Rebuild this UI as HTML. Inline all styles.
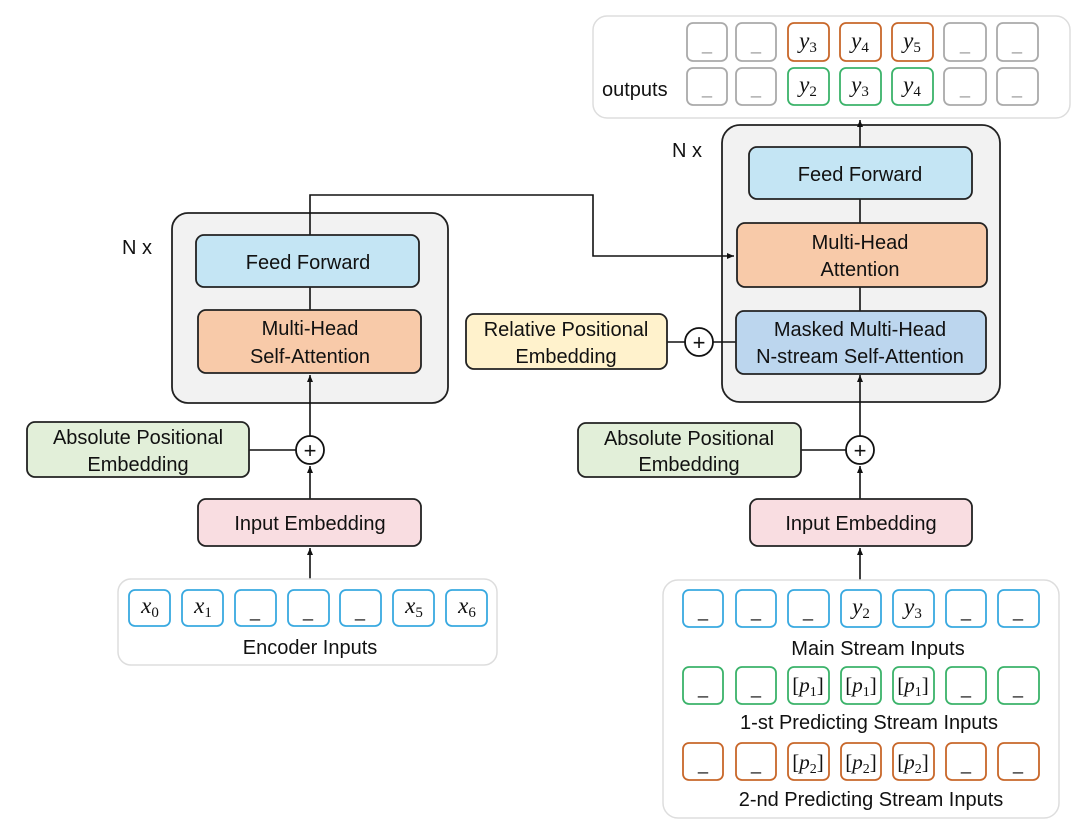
<!DOCTYPE html>
<html><head><meta charset="utf-8"><style>
html,body{margin:0;padding:0;background:#fff;}
svg{display:block;}
text{font-family:"Liberation Sans",sans-serif;fill:#111;}
.m{font-family:"Liberation Serif",serif;}
</style></head><body>
<svg width="1080" height="839" viewBox="0 0 1080 839" xmlns="http://www.w3.org/2000/svg">
<defs>
<marker id="ar" markerWidth="8" markerHeight="8" refX="7" refY="4" orient="auto" markerUnits="userSpaceOnUse">
<path d="M0,1 L7,4 L0,7 z" fill="#111"/></marker>
</defs>

<!-- output box -->
<rect x="593" y="16" width="477" height="102" rx="14" fill="#fff" stroke="#ddd" stroke-width="1.5"/>
<text x="602" y="96" font-size="20">outputs</text>
<g fill="#fff" stroke-width="1.8">
<rect x="687" y="23" width="40" height="38" rx="6" stroke="#aaa"/>
<rect x="736" y="23" width="40" height="38" rx="6" stroke="#aaa"/>
<rect x="788" y="23" width="41" height="38" rx="6" stroke="#c8672a"/>
<rect x="840" y="23" width="41" height="38" rx="6" stroke="#c8672a"/>
<rect x="892" y="23" width="41" height="38" rx="6" stroke="#c8672a"/>
<rect x="944" y="23" width="42" height="38" rx="6" stroke="#aaa"/>
<rect x="997" y="23" width="41" height="38" rx="6" stroke="#aaa"/>
<rect x="687" y="68" width="40" height="37" rx="6" stroke="#aaa"/>
<rect x="736" y="68" width="40" height="37" rx="6" stroke="#aaa"/>
<rect x="788" y="68" width="41" height="37" rx="6" stroke="#3bb36a"/>
<rect x="840" y="68" width="41" height="37" rx="6" stroke="#3bb36a"/>
<rect x="892" y="68" width="41" height="37" rx="6" stroke="#3bb36a"/>
<rect x="944" y="68" width="42" height="37" rx="6" stroke="#aaa"/>
<rect x="997" y="68" width="41" height="37" rx="6" stroke="#aaa"/>
</g>
<g font-size="18" text-anchor="middle">
<text x="707" y="50" style="fill:#999">_</text><text x="756" y="50" style="fill:#999">_</text>
<text x="965" y="50" style="fill:#999">_</text><text x="1017" y="50" style="fill:#999">_</text>
<text x="707" y="94" style="fill:#999">_</text><text x="756" y="94" style="fill:#999">_</text>
<text x="965" y="94" style="fill:#999">_</text><text x="1017" y="94" style="fill:#999">_</text>
</g>
<g font-size="23" text-anchor="middle">
<text class="m" x="808" y="48"><tspan font-style="italic">y</tspan><tspan font-size="15" dy="4">3</tspan></text>
<text class="m" x="860" y="48"><tspan font-style="italic">y</tspan><tspan font-size="15" dy="4">4</tspan></text>
<text class="m" x="912" y="48"><tspan font-style="italic">y</tspan><tspan font-size="15" dy="4">5</tspan></text>
<text class="m" x="808" y="92"><tspan font-style="italic">y</tspan><tspan font-size="15" dy="4">2</tspan></text>
<text class="m" x="860" y="92"><tspan font-style="italic">y</tspan><tspan font-size="15" dy="4">3</tspan></text>
<text class="m" x="912" y="92"><tspan font-style="italic">y</tspan><tspan font-size="15" dy="4">4</tspan></text>
</g>

<!-- encoder stack -->
<rect x="172" y="213" width="276" height="190" rx="16" fill="#f2f2f2" stroke="#222" stroke-width="1.8"/>
<text x="122" y="254" font-size="20">N x</text>
<!-- decoder stack -->
<rect x="722" y="125" width="278" height="277" rx="18" fill="#f2f2f2" stroke="#222" stroke-width="1.8"/>
<text x="672" y="157" font-size="20">N x</text>

<!-- lines -->
<g stroke="#111" stroke-width="1.6" fill="none">
<polyline points="310,235 310,195 593,195 593,256 734,256" marker-end="url(#ar)"/>
<line x1="310" y1="287" x2="310" y2="310"/>
<line x1="310" y1="436" x2="310" y2="375" marker-end="url(#ar)"/>
<line x1="310" y1="499" x2="310" y2="466" marker-end="url(#ar)"/>
<line x1="310" y1="579" x2="310" y2="548" marker-end="url(#ar)"/>
<line x1="249" y1="450" x2="296" y2="450"/>
<line x1="860" y1="147" x2="860" y2="120" marker-end="url(#ar)"/>
<line x1="860" y1="199" x2="860" y2="223"/>
<line x1="860" y1="287" x2="860" y2="311"/>
<line x1="860" y1="436" x2="860" y2="375" marker-end="url(#ar)"/>
<line x1="860" y1="499" x2="860" y2="466" marker-end="url(#ar)"/>
<line x1="860" y1="580" x2="860" y2="548" marker-end="url(#ar)"/>
<line x1="801" y1="450" x2="846" y2="450"/>
<line x1="667" y1="342" x2="685" y2="342"/>
<line x1="713" y1="342" x2="736" y2="342"/>
</g>

<!-- encoder blocks -->
<rect x="196" y="235" width="223" height="52" rx="8" fill="#c4e5f4" stroke="#222" stroke-width="1.8"/>
<text x="308" y="269" font-size="20" text-anchor="middle">Feed Forward</text>
<rect x="198" y="310" width="223" height="63" rx="8" fill="#f8caa9" stroke="#222" stroke-width="1.8"/>
<text x="310" y="335" font-size="20" text-anchor="middle">Multi-Head</text>
<text x="310" y="363" font-size="20" text-anchor="middle">Self-Attention</text>
<rect x="27" y="422" width="222" height="55" rx="8" fill="#e2efd9" stroke="#222" stroke-width="1.8"/>
<text x="138" y="444" font-size="20" text-anchor="middle">Absolute Positional</text>
<text x="138" y="471" font-size="20" text-anchor="middle">Embedding</text>
<circle cx="310" cy="450" r="14" fill="#fff" stroke="#111" stroke-width="1.8"/>
<text x="310" y="458" font-size="22" text-anchor="middle">+</text>
<rect x="198" y="499" width="223" height="47" rx="8" fill="#f9dde1" stroke="#222" stroke-width="1.8"/>
<text x="310" y="530" font-size="20" text-anchor="middle">Input Embedding</text>

<!-- encoder inputs -->
<rect x="118" y="579" width="379" height="86" rx="13" fill="#fff" stroke="#ddd" stroke-width="1.5"/>
<g fill="#fff" stroke="#39a9e0" stroke-width="1.8">
<rect x="129" y="590" width="41" height="36" rx="6"/><rect x="182" y="590" width="41" height="36" rx="6"/>
<rect x="235" y="590" width="41" height="36" rx="6"/><rect x="288" y="590" width="41" height="36" rx="6"/>
<rect x="340" y="590" width="41" height="36" rx="6"/><rect x="393" y="590" width="41" height="36" rx="6"/>
<rect x="446" y="590" width="41" height="36" rx="6"/>
</g>
<g font-size="18" text-anchor="middle">
<text x="255" y="617">_</text><text x="308" y="617">_</text><text x="360" y="617">_</text>
</g>
<g font-size="23" text-anchor="middle">
<text class="m" x="150" y="613"><tspan font-style="italic">x</tspan><tspan font-size="15" dy="4">0</tspan></text>
<text class="m" x="203" y="613"><tspan font-style="italic">x</tspan><tspan font-size="15" dy="4">1</tspan></text>
<text class="m" x="414" y="613"><tspan font-style="italic">x</tspan><tspan font-size="15" dy="4">5</tspan></text>
<text class="m" x="467" y="613"><tspan font-style="italic">x</tspan><tspan font-size="15" dy="4">6</tspan></text>
</g>
<text x="310" y="654" font-size="20" text-anchor="middle">Encoder Inputs</text>

<!-- decoder blocks -->
<rect x="749" y="147" width="223" height="52" rx="8" fill="#c4e5f4" stroke="#222" stroke-width="1.8"/>
<text x="860" y="181" font-size="20" text-anchor="middle">Feed Forward</text>
<rect x="737" y="223" width="250" height="64" rx="8" fill="#f8caa9" stroke="#222" stroke-width="1.8"/>
<text x="860" y="249" font-size="20" text-anchor="middle">Multi-Head</text>
<text x="860" y="276" font-size="20" text-anchor="middle">Attention</text>
<rect x="736" y="311" width="250" height="63" rx="8" fill="#bcd6ee" stroke="#222" stroke-width="1.8"/>
<text x="860" y="336" font-size="20" text-anchor="middle">Masked Multi-Head</text>
<text x="860" y="363" font-size="20" text-anchor="middle">N-stream Self-Attention</text>
<rect x="466" y="314" width="201" height="55" rx="8" fill="#fff2cc" stroke="#222" stroke-width="1.8"/>
<text x="566" y="336" font-size="20" text-anchor="middle">Relative Positional</text>
<text x="566" y="363" font-size="20" text-anchor="middle">Embedding</text>
<circle cx="699" cy="342" r="14" fill="#fff" stroke="#111" stroke-width="1.8"/>
<text x="699" y="350" font-size="22" text-anchor="middle">+</text>
<rect x="578" y="423" width="223" height="54" rx="8" fill="#e2efd9" stroke="#222" stroke-width="1.8"/>
<text x="689" y="445" font-size="20" text-anchor="middle">Absolute Positional</text>
<text x="689" y="471" font-size="20" text-anchor="middle">Embedding</text>
<circle cx="860" cy="450" r="14" fill="#fff" stroke="#111" stroke-width="1.8"/>
<text x="860" y="458" font-size="22" text-anchor="middle">+</text>
<rect x="750" y="499" width="222" height="47" rx="8" fill="#f9dde1" stroke="#222" stroke-width="1.8"/>
<text x="861" y="530" font-size="20" text-anchor="middle">Input Embedding</text>

<!-- decoder inputs -->
<rect x="663" y="580" width="396" height="238" rx="15" fill="#fff" stroke="#ddd" stroke-width="1.5"/>
<g fill="#fff" stroke-width="1.8">
<g stroke="#39a9e0">
<rect x="683" y="590" width="40" height="37" rx="6"/><rect x="736" y="590" width="40" height="37" rx="6"/>
<rect x="788" y="590" width="41" height="37" rx="6"/><rect x="841" y="590" width="40" height="37" rx="6"/>
<rect x="893" y="590" width="41" height="37" rx="6"/><rect x="946" y="590" width="40" height="37" rx="6"/>
<rect x="998" y="590" width="41" height="37" rx="6"/>
</g>
<g stroke="#3bb36a">
<rect x="683" y="667" width="40" height="37" rx="6"/><rect x="736" y="667" width="40" height="37" rx="6"/>
<rect x="788" y="667" width="41" height="37" rx="6"/><rect x="841" y="667" width="40" height="37" rx="6"/>
<rect x="893" y="667" width="41" height="37" rx="6"/><rect x="946" y="667" width="40" height="37" rx="6"/>
<rect x="998" y="667" width="41" height="37" rx="6"/>
</g>
<g stroke="#c8672a">
<rect x="683" y="743" width="40" height="37" rx="6"/><rect x="736" y="743" width="40" height="37" rx="6"/>
<rect x="788" y="743" width="41" height="37" rx="6"/><rect x="841" y="743" width="40" height="37" rx="6"/>
<rect x="893" y="743" width="41" height="37" rx="6"/><rect x="946" y="743" width="40" height="37" rx="6"/>
<rect x="998" y="743" width="41" height="37" rx="6"/>
</g>
</g>
<g font-size="18" text-anchor="middle">
<text x="703" y="617">_</text><text x="756" y="617">_</text><text x="808" y="617">_</text><text x="966" y="617">_</text><text x="1018" y="617">_</text>
<text x="703" y="694">_</text><text x="756" y="694">_</text><text x="966" y="694">_</text><text x="1018" y="694">_</text>
<text x="703" y="770">_</text><text x="756" y="770">_</text><text x="966" y="770">_</text><text x="1018" y="770">_</text>
</g>
<g font-size="23" text-anchor="middle">
<text class="m" x="861" y="614"><tspan font-style="italic">y</tspan><tspan font-size="15" dy="4">2</tspan></text>
<text class="m" x="913" y="614"><tspan font-style="italic">y</tspan><tspan font-size="15" dy="4">3</tspan></text>
</g>
<g font-size="21" text-anchor="middle">
<text class="m" x="808" y="692">[<tspan font-style="italic">p</tspan><tspan font-size="14" dy="4">1</tspan><tspan dy="-4">]</tspan></text>
<text class="m" x="861" y="692">[<tspan font-style="italic">p</tspan><tspan font-size="14" dy="4">1</tspan><tspan dy="-4">]</tspan></text>
<text class="m" x="913" y="692">[<tspan font-style="italic">p</tspan><tspan font-size="14" dy="4">1</tspan><tspan dy="-4">]</tspan></text>
<text class="m" x="808" y="769">[<tspan font-style="italic">p</tspan><tspan font-size="14" dy="4">2</tspan><tspan dy="-4">]</tspan></text>
<text class="m" x="861" y="769">[<tspan font-style="italic">p</tspan><tspan font-size="14" dy="4">2</tspan><tspan dy="-4">]</tspan></text>
<text class="m" x="913" y="769">[<tspan font-style="italic">p</tspan><tspan font-size="14" dy="4">2</tspan><tspan dy="-4">]</tspan></text>
</g>
<text x="878" y="655" font-size="20" text-anchor="middle">Main Stream Inputs</text>
<text x="869" y="729" font-size="20" text-anchor="middle">1-st Predicting Stream Inputs</text>
<text x="871" y="806" font-size="20" text-anchor="middle">2-nd Predicting Stream Inputs</text>
</svg>
</body></html>
